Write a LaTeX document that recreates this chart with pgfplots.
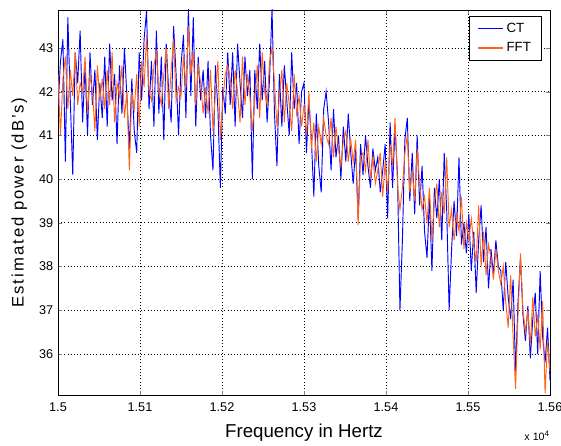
\documentclass[border=0pt]{standalone}
\usepackage{fontspec}
\setmainfont{Liberation Sans}
\usepackage{pgfplots}
\usepackage{pgfplotstable}
\pgfplotsset{compat=1.18}
\definecolor{ctblue}{RGB}{0,0,255}
\definecolor{fftorange}{RGB}{255,100,20}
\pgfplotstableread{
f ct fft
15000 41.6 42.4
15003 42.7 41.0
15006 43.2 42.3
15009 40.4 42.8
15012 43.7 41.6
15015 41.8 42.5
15018 40.1 41.9
15021 42.9 42.9
15024 42.2 41.7
15027 43.4 42.2
15030 41.3 42.0
15033 42.6 42.8
15036 41.0 41.5
15039 42.9 42.4
15042 41.7 42.0
15045 42.5 41.1
15048 40.9 42.6
15051 42.2 41.8
15054 41.4 42.3
15057 42.8 41.6
15060 41.2 42.5
15063 43.1 41.7
15066 41.8 42.9
15069 42.4 41.3
15072 40.8 42.2
15075 42.6 41.9
15078 41.5 42.6
15081 43.0 41.4
15084 41.9 42.0
15087 40.7 40.2
15090 42.3 42.0
15093 41.1 41.6
15096 40.6 42.4
15099 42.9 41.2
15102 41.8 42.7
15105 43.2 42.1
15108 43.85 43.3
15111 41.6 42.0
15114 42.7 41.8
15117 41.2 42.6
15120 43.4 42.9
15123 41.5 42.0
15126 42.8 41.7
15129 40.9 42.4
15132 43.1 43.0
15135 42.0 41.6
15138 41.3 42.5
15141 43.5 43.2
15144 42.4 41.8
15147 41.0 42.1
15150 42.6 41.9
15153 43.3 42.8
15156 41.4 42.1
15159 43.9 43.5
15162 41.9 42.4
15165 43.7 42.9
15168 41.2 41.7
15171 42.8 42.6
15174 41.8 42.2
15177 42.5 41.5
15180 41.4 42.1
15183 42.7 41.5
15186 41.0 42.5
15189 40.2 41.1
15192 42.6 42.0
15195 41.6 42.7
15198 39.8 40.9
15201 42.1 41.8
15204 41.5 42.4
15207 42.9 42.6
15210 41.7 42.3
15213 42.9 41.6
15216 41.2 42.5
15219 43.1 42.0
15222 42.2 41.3
15225 41.4 42.8
15228 42.8 41.7
15231 41.9 42.4
15234 42.5 41.9
15237 40.0 41.1
15240 42.5 41.8
15243 41.6 42.6
15246 43.1 41.4
15249 41.8 42.9
15252 42.7 42.0
15255 41.3 41.7
15258 42.3 42.7
15261 43.9 43.0
15264 41.5 42.2
15267 40.3 41.2
15270 42.4 41.9
15273 41.2 42.5
15276 42.6 41.3
15279 41.8 42.2
15282 41.0 41.7
15285 42.9 41.1
15288 41.6 42.4
15291 42.2 41.5
15294 40.8 41.9
15297 42.0 41.2
15300 42.2 41.7
15303 40.6 41.0
15306 41.8 42.0
15309 40.9 40.7
15312 39.6 41.3
15315 41.5 40.4
15318 40.3 41.2
15321 39.7 40.8
15324 41.6 41.4
15327 42.0 41.0
15330 41.3 40.8
15333 40.2 41.4
15336 41.6 40.5
15339 40.5 41.2
15342 41.0 40.7
15345 40.0 40.3
15348 41.2 40.9
15351 40.4 41.1
15354 41.5 40.4
15357 40.6 40.9
15360 39.9 40.4
15363 40.7 40.9
15366 39.1 38.95
15369 40.8 40.5
15372 40.1 40.6
15375 41.0 40.2
15378 40.3 40.9
15381 39.8 40.0
15384 40.7 40.5
15387 40.2 39.9
15390 40.5 40.2
15393 39.7 40.6
15396 40.2 39.6
15399 40.8 40.4
15402 39.1 39.7
15405 41.3 40.8
15408 39.8 40.3
15411 41.2 41.4
15414 40.1 39.9
15417 37.0 39.3
15420 38.6 39.8
15423 40.9 40.6
15426 41.4 41.0
15429 39.5 39.7
15432 40.6 40.2
15435 39.2 39.5
15438 41.0 40.7
15441 39.4 39.9
15444 40.3 39.3
15447 38.8 39.6
15450 38.2 39.0
15453 39.6 39.8
15456 37.9 38.6
15459 39.8 39.5
15462 39.1 39.9
15465 40.0 38.9
15468 38.6 39.7
15471 40.6 39.2
15474 39.3 40.5
15477 37.0 38.9
15480 38.4 39.3
15483 39.5 38.6
15486 38.7 39.2
15489 40.5 38.8
15492 38.5 39.6
15495 39.0 38.4
15498 38.3 39.0
15501 39.2 38.6
15504 37.9 39.1
15507 38.8 38.5
15510 37.4 38.1
15513 38.6 39.4
15516 39.4 38.0
15519 38.1 38.8
15522 38.9 37.8
15525 37.5 38.5
15528 38.4 38.2
15531 37.8 37.7
15534 38.6 38.4
15537 38.0 37.9
15540 37.9 37.6
15543 37.0 38.0
15546 38.1 37.2
15549 37.3 36.6
15552 36.8 37.8
15555 37.7 36.4
15558 35.6 35.2
15561 37.2 36.9
15564 38.2 38.3
15567 36.9 37.0
15570 36.3 36.5
15573 37.1 37.0
15576 35.9 36.2
15579 36.8 37.3
15582 37.4 36.4
15585 36.0 36.9
15588 37.9 36.1
15591 36.4 37.2
15594 35.8 35.1
15597 36.6 36.3
15600 35.4 35.6
}\datatable
\begin{document}
\begin{tikzpicture}
\begin{axis}[
  scale only axis,
  width=369pt, height=288.75pt,
  xmin=15000, xmax=15600,
  ymin=35.06, ymax=43.87,
  xtick={15000,15100,15200,15300,15400,15500,15600},
  xticklabels={1.5,1.51,1.52,1.53,1.54,1.55,1.56},
  ytick={36,37,38,39,40,41,42,43},
  scaled x ticks=false,
  /pgf/number format/assume math mode=true,
  tick label style={font=\fontsize{9.5}{10}\selectfont},
  xticklabel style={yshift=-2pt},
  tick align=inside,
  major tick length=3pt,
  grid=major,
  major grid style={black, dotted, line width=0.5pt},
  axis line style={black, line width=0.6pt},
  xlabel={Frequency in Hertz},
  xlabel style={font=\fontsize{14}{16}\selectfont, at={(axis description cs:0.5,0)}, anchor=base, yshift=-32pt},
  ylabel={\addfontfeature{LetterSpace=12}Estimated power (dB's)},
  ylabel style={font=\fontsize{12.5}{14}\selectfont, at={(axis description cs:0,0.5)}, anchor=center, yshift=29pt},
  legend style={at={(rel axis cs:1,1)}, anchor=north east, xshift=-6pt, yshift=-4.5pt,
    font=\fontsize{10}{11}\selectfont, draw=black, line width=0.6pt, inner xsep=6pt, inner ysep=3pt,
    row sep=2pt, cells={anchor=west}},
  legend image code/.code={\draw[#1, line width=1pt] (0pt,0pt) -- (19pt,0pt);},
]
\addplot[ctblue, line width=0.7pt] table[x=f, y=ct] {\datatable};
\addlegendentry{CT}
\addplot[fftorange, line width=0.7pt] table[x=f, y=fft] {\datatable};
\addlegendentry{FFT}
\coordinate (bl) at (rel axis cs:0,0);
\coordinate (tr) at (rel axis cs:1,1);
\coordinate (xe) at (rel axis cs:1,0);
\end{axis}
\node[font=\fontsize{8}{9}\selectfont, anchor=base east, inner sep=0pt] at ([yshift=-34pt]xe) {x 10\textsuperscript{4}};
\pgfresetboundingbox
\path[use as bounding box] ([xshift=-43.5pt,yshift=-37.5pt]bl) rectangle ([xshift=8.25pt,yshift=7.5pt]tr);
\end{tikzpicture}
\end{document}
